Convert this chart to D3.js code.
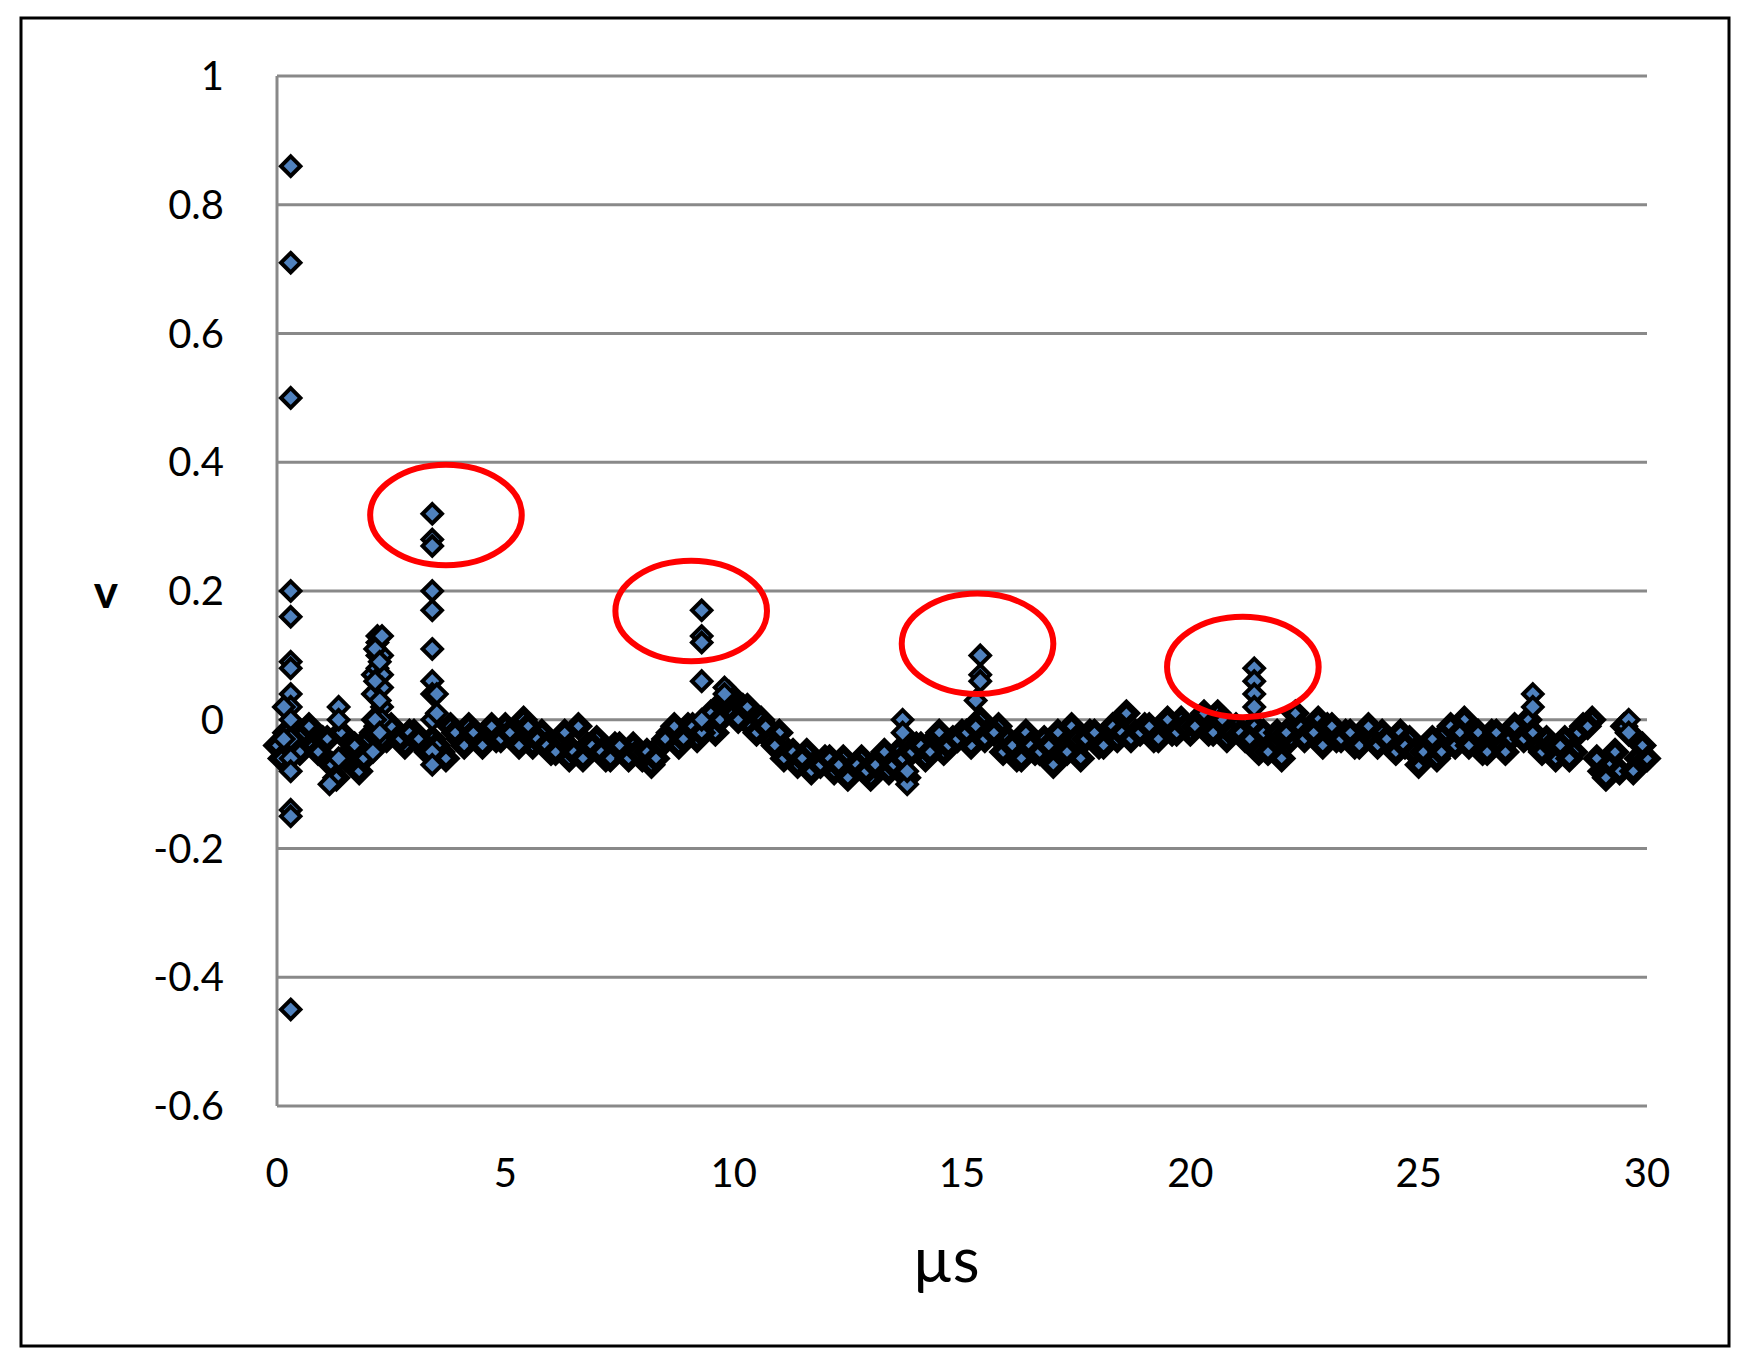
<!DOCTYPE html>
<html>
<head>
<meta charset="utf-8">
<script src="https://cdn.jsdelivr.net/npm/d3@7"></script>
<style>
  body { margin: 0; background: #fff; }
  text { font-family: Lato, "Open Sans", sans-serif; fill: #000; }
</style>
</head>
<body>
<div class="chart"></div>
<script>
// baseline trace, one value every 0.2 us from 0 to 30
var baseStep = 0.2;
var baseV = [
  -0.04,-0.02,-0.05, -0.02,-0.04,-0.03, -0.07,-0.02,-0.05, -0.08,-0.03, -0.01,-0.03,
  -0.02,-0.04,-0.02,-0.04, -0.03,-0.05, -0.01,-0.03,-0.01,-0.03,-0.02,-0.03,-0.01,
  -0.03,0.0,-0.04,-0.02,-0.05,
  -0.03,-0.06,-0.01,-0.04,-0.03,
  -0.06,-0.04,-0.05,-0.04,-0.06,
  -0.07,-0.04,-0.02,-0.04,-0.01,
  -0.03,0.0,-0.02,0.03,0.01,
  0.02,-0.01,0.0,-0.03,-0.02,
  -0.05,-0.07,-0.05,-0.07,-0.06,
  -0.08,-0.06,-0.08,-0.06,-0.09,
  -0.06,-0.08,-0.05,-0.09,-0.04,
  -0.06,-0.03,-0.05,-0.03,-0.02,
  -0.04,0.0,-0.02,-0.01,-0.03,
  -0.06,-0.02,-0.05,-0.03,-0.07,
  -0.03,-0.01,-0.06,-0.02,-0.04,
  -0.02,-0.03,0.01,-0.02,-0.01,
  -0.03,-0.01,-0.02,0.0,-0.02,
  0.0,-0.02,0.01,-0.03,-0.01,
  -0.03,-0.01,-0.02,-0.04,-0.06,
  -0.03,-0.01,-0.02,0.0,-0.01,
  -0.03,-0.02,-0.04,-0.02,-0.03,
  -0.02,-0.04,-0.02,-0.03,-0.07,
  -0.04,-0.06,-0.02,-0.04,0.0,
  -0.03,-0.05,-0.02,-0.04,-0.03,
  -0.02,0.0,-0.04,-0.03,-0.06,
  -0.03,-0.05,-0.01,0.0,-0.08,
  -0.07,-0.08,-0.02,-0.06,-0.06
];
// second trace sample set, at 0.1, 0.3, ... 29.9 us
var midStart = 0.1;
var midV = [
  -0.06,-0.03,-0.05,-0.01,-0.05,-0.03,-0.09,-0.06,-0.04,-0.06,-0.02,-0.03,-0.01,-0.03,-0.02,-0.03,-0.05,-0.04,-0.06,-0.02,-0.04,-0.02,-0.04,-0.01,-0.03,
  -0.02,-0.04,-0.01,-0.03,-0.04, -0.05,-0.02,-0.05,-0.06,-0.04, -0.05,-0.06,-0.04,-0.06,-0.05, -0.05,-0.06,-0.03,-0.01,-0.03, -0.01,-0.02,0.01,0.0,0.04,
  0.0,0.02,-0.02,-0.01,-0.04, -0.06,-0.05,-0.06,-0.08,-0.07, -0.06,-0.07,-0.09,-0.07,-0.08, -0.07,-0.05,-0.07,-0.06,-0.05, -0.04,-0.05,-0.02,-0.04,-0.03,
  -0.02,-0.01,-0.03,-0.02,-0.05, -0.04,-0.06,-0.04,-0.05,-0.04, -0.02,-0.05,-0.03,-0.03,-0.02, -0.04,-0.01,-0.02,-0.03,-0.02, -0.01,-0.03,0.0,-0.02,-0.01,
  -0.01,0.01,-0.02,0.0,-0.02, -0.02,-0.03,-0.05,-0.05,-0.02, -0.02,0.01,-0.03,-0.02,-0.04, -0.01,-0.03,-0.02,-0.04,-0.01, -0.04,-0.03,-0.05,-0.04,-0.05,
  -0.05,-0.03,-0.05,-0.01,-0.02, -0.04,-0.02,-0.05,-0.02,-0.05, -0.01,-0.03,-0.02,-0.05,-0.04, -0.04,-0.06,-0.02,-0.01,-0.06, -0.09,-0.05,-0.01,-0.08,-0.04
];
// extra points (spikes), x in us and v
var spikeX = [0.3,0.3,0.3,0.3,0.3,0.3,0.3,0.3,0.3,0.3,0.3,0.3,0.3,0.3,0.3,0.3,
  0.15,0.15,1.15,1.35,1.35,1.35,2.1,2.1,2.1,2.1,2.2,2.2,2.2,2.2,2.3,2.3,2.3,2.3,2.3,2.3,
  2.15,2.15,2.15,2.25,2.25,2.25,
  3.4,3.4,3.4,3.4,3.4,3.4,3.4,3.4,3.4,3.4,3.4,3.5,3.5,
  9.3,9.3,9.3,9.3,9.3,9.8,9.8,13.7,13.7,13.8,13.8,15.3,15.4,15.4,15.4,
  21.4,21.4,21.4,21.4,27.5,27.5,29.6,29.6];
var spikeV = [0.86,0.71,0.5,0.2,0.16,0.09,0.08,0.04,0.02,0.0,-0.03,-0.06,-0.08,-0.14,-0.15,-0.45,
  0.02,-0.03,-0.1,0.02,0.0,-0.06,0.07,0.04,0.0,-0.05,0.13,0.12,0.1,0.08,0.13,0.1,0.07,0.05,0.02,0.0,
  0.11,0.06,0.0,0.09,0.03,-0.02,
  0.32,0.28,0.27,0.2,0.17,0.11,0.06,0.04,0.0,-0.05,-0.07,0.04,0.01,
  0.17,0.13,0.12,0.06,0.0,0.05,0.04,0.0,-0.02,-0.1,-0.08,0.03,0.1,0.07,0.06,
  0.08,0.06,0.04,0.02,0.04,0.02,0.0,-0.02];
// red ellipse highlights (centre x, centre v)
var ringX = [3.7, 9.07, 15.34, 21.15];
var ringV = [0.318, 0.169, 0.118, 0.082];
var xTicks = [0, 5, 10, 15, 20, 25, 30];
var yTicks = [1, 0.8, 0.6, 0.4, 0.2, 0, -0.2, -0.4, -0.6];

var width = 1748, height = 1363;
var plotLeft = 277, plotRight = 1647, plotTop = 76, plotBottom = 1106;

var svg = d3.select('.chart').append('svg').attr('width', width).attr('height', height);

//outer frame
svg.append('rect').attr('x', 21).attr('y', 18).attr('width', 1708).attr('height', 1328)
  .attr('fill', 'none').attr('stroke', '#000').attr('stroke-width', 3);

var xScale = d3.scaleLinear().domain([0, 30]).range([plotLeft, plotRight]);
var yScale = d3.scaleLinear().domain([-0.6, 1]).range([plotBottom, plotTop]);

//gridlines
svg.append('g').selectAll('line').data(yTicks).enter().append('line')
  .attr('x1', plotLeft).attr('x2', plotRight)
  .attr('y1', function (d) { return yScale(d); }).attr('y2', function (d) { return yScale(d); })
  .attr('stroke', '#898989').attr('stroke-width', 3);
svg.append('line').attr('x1', plotLeft).attr('x2', plotLeft).attr('y1', plotTop).attr('y2', plotBottom)
  .attr('stroke', '#898989').attr('stroke-width', 3);

//tick labels
svg.append('g').selectAll('text').data(yTicks).enter().append('text')
  .attr('x', 224).attr('y', function (d) { return yScale(d) + 14; })
  .attr('text-anchor', 'end').style('font-size', '40px')
  .text(function (d) { return String(d); });
svg.append('g').selectAll('text').data(xTicks).enter().append('text')
  .attr('x', function (d) { return xScale(d); }).attr('y', 1187)
  .attr('text-anchor', 'middle').style('font-size', '40px')
  .text(function (d) { return d; });

svg.append('text').attr('x', 946).attr('y', 1282).attr('text-anchor', 'middle')
  .style('font-size', '62px').text('µs');
svg.append('text').attr('x', 106).attr('y', 608).attr('text-anchor', 'middle')
  .style('font-size', '46px').style('font-weight', 'bold').text('v');

//points: dense trace drawn with heavy outlines, spikes on top
var tracePts = baseV.map(function (v, i) { return [i * baseStep, v]; })
  .concat(midV.map(function (v, i) { return [midStart + i * baseStep, v]; }));
var spikePts = spikeX.map(function (x, i) { return [x, spikeV[i]]; });
var diamond = d3.symbol().type(d3.symbolDiamond2).size(240);
function pos(d) { return 'translate(' + xScale(d[0]) + ',' + yScale(d[1]) + ')'; }
svg.append('g').selectAll('path').data(tracePts).enter().append('path')
  .attr('d', diamond).attr('transform', pos)
  .attr('fill', '#4f81bd').attr('stroke', '#000').attr('stroke-width', 7);
svg.append('g').selectAll('path').data(spikePts).enter().append('path')
  .attr('d', diamond).attr('transform', pos)
  .attr('fill', '#4f81bd').attr('stroke', '#000').attr('stroke-width', 4);

//red rings
svg.append('g').selectAll('ellipse').data(ringX).enter().append('ellipse')
  .attr('cx', function (d) { return xScale(d); })
  .attr('cy', function (d, i) { return yScale(ringV[i]); })
  .attr('rx', xScale(1.66) - xScale(0)).attr('ry', yScale(0) - yScale(0.078))
  .attr('fill', 'none').attr('stroke', '#f00').attr('stroke-width', 6);
</script>
</body>
</html>
